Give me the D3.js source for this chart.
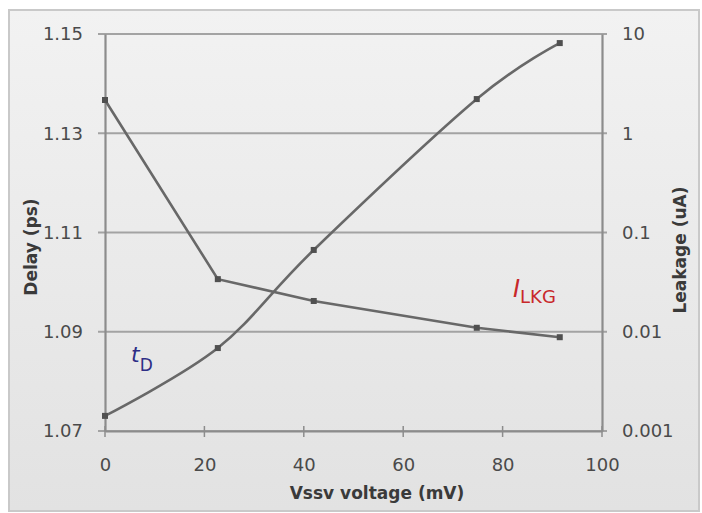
<!DOCTYPE html>
<html>
<head>
<meta charset="utf-8">
<script src="https://cdn.jsdelivr.net/npm/d3@7"></script>
<style>
  body { margin: 0; background: #fff; }
  svg text { font-family: "DejaVu Sans", Verdana, sans-serif; }
</style>
</head>
<body>
<svg id="chart"></svg>
<script>
// values
var voltage = [0, 22.7, 42, 74.8, 91.5]
var delay = [1.1367, 1.1006, 1.0962, 1.0908, 1.0889]
var leakage = [0.00142, 0.00685, 0.0667, 2.21, 8.1]
var xTicks = [0, 20, 40, 60, 80, 100]
var delayTicks = [1.07, 1.09, 1.11, 1.13, 1.15]
var leakTicks = [0.001, 0.01, 0.1, 1, 10]

var W = 702, H = 513
var margin = {top: 34, right: 100, bottom: 82, left: 105}
var width = W - margin.left - margin.right
var height = H - margin.top - margin.bottom

var svg = d3.select("#chart").attr("width", W).attr("height", H)

var defs = svg.append("defs")
var grad = defs.append("linearGradient").attr("id", "bg")
    .attr("x1", 0).attr("y1", 0).attr("x2", 0).attr("y2", 1)
grad.append("stop").attr("offset", "0%").attr("stop-color", "#f2f2f2")
grad.append("stop").attr("offset", "100%").attr("stop-color", "#e2e2e2")

svg.append("rect")
    .attr("x", 9).attr("y", 10).attr("width", 690).attr("height", 501)
    .attr("fill", "url(#bg)").attr("stroke", "#c9c9c9").attr("stroke-width", 2)

var g = svg.append("g")
    .attr("transform", "translate(" + margin.left + "," + margin.top + ")")

var x = d3.scaleLinear().domain([0, 100]).range([0, width])
var yD = d3.scaleLinear().domain([1.07, 1.15]).range([height, 0])
var yL = d3.scaleLog().domain([0.001, 10]).range([height, 0])

// gridlines
g.append("g").selectAll("line").data(delayTicks).join("line")
    .attr("x1", -7).attr("x2", width + 5)
    .attr("y1", d => yD(d)).attr("y2", d => yD(d))
    .attr("stroke", "#a3a3a3").attr("stroke-width", 2.2)

// axes
var axL = g.append("g")
    .call(d3.axisLeft(yD).tickValues(delayTicks).tickFormat(d3.format(".2f")).tickSize(0).tickPadding(22))
var axR = g.append("g").attr("transform", "translate(" + width + ",0)")
    .call(d3.axisRight(yL).tickValues(leakTicks).tickFormat(d => d3.format("~g")(d)).tickSize(0).tickPadding(20))
var axB = g.append("g").attr("transform", "translate(0," + height + ")")
    .call(d3.axisBottom(x).tickValues(xTicks).tickSize(0).tickPadding(27))

;[axL, axR, axB].forEach(function(a) {
    a.select(".domain").attr("stroke", "#8c8c8c").attr("stroke-width", 2.2)
    a.selectAll("text").attr("fill", "#4a4a4a").style("font-size", "18px")
})

// x cross ticks
g.append("g").selectAll("line").data(xTicks).join("line")
    .attr("x1", d => x(d)).attr("x2", d => x(d))
    .attr("y1", height - 5).attr("y2", height + 6)
    .attr("stroke", "#8c8c8c").attr("stroke-width", 1.5)

// series
var pts = voltage.map((v, i) => ({v: v, d: delay[i], l: leakage[i]}))

var lineD = d3.line().x(p => x(p.v)).y(p => yD(p.d))
var lineL = d3.line().curve(d3.curveCatmullRom.alpha(0)).x(p => x(p.v)).y(p => yL(p.l))

g.append("path").datum(pts).attr("d", lineD)
    .attr("fill", "none").attr("stroke", "#686868").attr("stroke-width", 2.6)
g.append("path").datum(pts).attr("d", lineL)
    .attr("fill", "none").attr("stroke", "#686868").attr("stroke-width", 2.6)

g.append("g").selectAll("rect").data(pts).join("rect")
    .attr("x", p => x(p.v) - 3).attr("y", p => yD(p.d) - 3)
    .attr("width", 6).attr("height", 6).attr("fill", "#505050")
g.append("g").selectAll("rect").data(pts).join("rect")
    .attr("x", p => x(p.v) - 3).attr("y", p => yL(p.l) - 3)
    .attr("width", 6).attr("height", 6).attr("fill", "#505050")

// series labels
var tD = svg.append("text").attr("x", 131).attr("y", 362).attr("fill", "#2e2e86")
tD.append("tspan").attr("font-style", "italic").style("font-size", "22px").text("t")
tD.append("tspan").attr("dy", 9).style("font-size", "17px").text("D")

var iL = svg.append("text").attr("x", 513).attr("y", 297).attr("fill", "#c8282a")
iL.append("tspan").attr("font-style", "italic").style("font-size", "24px").text("I")
iL.append("tspan").attr("dy", 6).style("font-size", "18px").text("LKG")

// axis titles
svg.append("text")
    .attr("transform", "translate(31,247) rotate(-90)")
    .attr("text-anchor", "middle").attr("dominant-baseline", "central")
    .attr("font-weight", "bold").attr("fill", "#3a3a3a").style("font-size", "17px")
    .text("Delay (ps)")
svg.append("text")
    .attr("transform", "translate(680,250) rotate(-90)")
    .attr("text-anchor", "middle").attr("dominant-baseline", "central")
    .attr("font-weight", "bold").attr("fill", "#3a3a3a").style("font-size", "17px")
    .text("Leakage (uA)")
svg.append("text")
    .attr("x", 377).attr("y", 493)
    .attr("text-anchor", "middle").attr("dominant-baseline", "central")
    .attr("font-weight", "bold").attr("fill", "#3a3a3a").style("font-size", "17px")
    .text("Vssv voltage (mV)")
</script>
</body>
</html>
